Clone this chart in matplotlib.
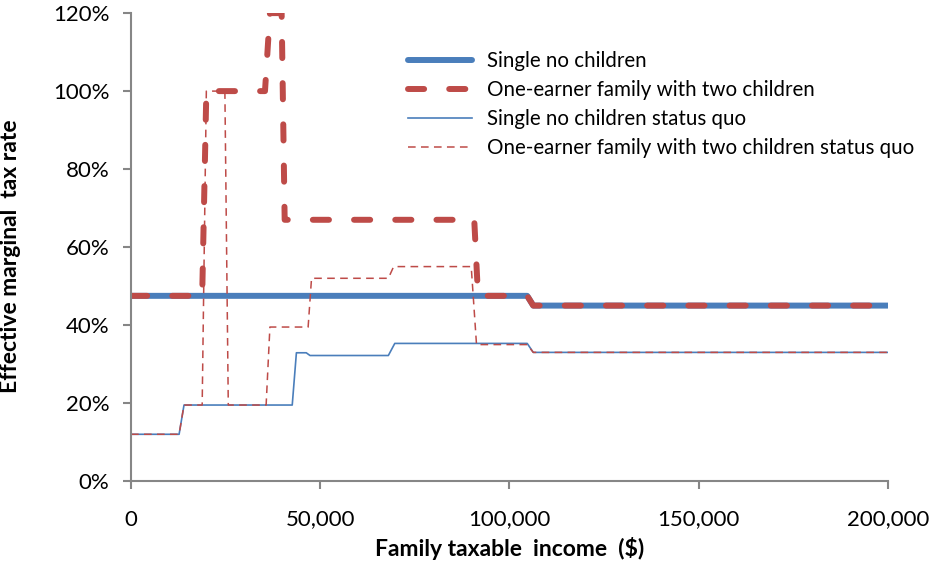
import matplotlib
matplotlib.use("Agg")
import matplotlib.pyplot as plt
from matplotlib.ticker import FuncFormatter

plt.rcParams['font.family'] = ['Lato', 'DejaVu Sans']

# income breakpoints ($) and effective marginal tax rates (%)
single_x = [0, 104700, 106300, 200000]
single_y = [47.5, 47.5, 45, 45]

family_x = [0, 18800, 19900, 35400, 36700, 39800, 40600, 90700, 91700, 104700, 106300, 200000]
family_y = [47.5, 47.5, 100, 100, 120, 120, 67, 67, 47.5, 47.5, 45, 45]

single_sq_x = [0, 12700, 14000, 42600, 43700, 46300, 47300, 68000, 69700, 104700, 106300, 200000]
single_sq_y = [12, 12, 19.5, 19.5, 32.9, 32.9, 32.2, 32.2, 35.3, 35.3, 33, 33]

family_sq_x = [0, 12700, 14000, 18800, 19900, 24800, 25700, 35700, 36700, 46800, 47700,
               68000, 69400, 89900, 91300, 104700, 106300, 200000]
family_sq_y = [12, 12, 19.5, 19.5, 100, 100, 19.5, 19.5, 39.5, 39.5, 52,
               52, 55, 55, 35, 35, 33, 33]

labels = ["Single no children",
          "One-earner family with two children",
          "Single no children status quo",
          "One-earner family with two children status quo"]

blue = '#4A7EBB'
red = '#BE4B48'
grey = '#868686'

fig = plt.figure(figsize=(9.32, 5.7), dpi=100)
ax = fig.add_axes([0.1406, 0.156, 0.812, 0.821])

ax.plot(single_x, single_y, color=blue, lw=4.3, solid_capstyle='round', label=labels[0])
ax.plot(family_x, family_y, color=red, lw=4.3, dashes=(2.7, 4.2),
        dash_capstyle='round', label=labels[1])
ax.plot(single_sq_x, single_sq_y, color=blue, lw=1.2, label=labels[2])
ax.plot(family_sq_x, family_sq_y, color=red, lw=1.1, dashes=(5, 3.5), label=labels[3])

ax.set_xlim(0, 200000)
ax.set_ylim(0, 120)
ax.set_xticks([0, 50000, 100000, 150000, 200000])
ax.set_yticks(range(0, 121, 20))
ax.xaxis.set_major_formatter(FuncFormatter(lambda v, p: f"{int(v):,}"))
ax.yaxis.set_major_formatter(FuncFormatter(lambda v, p: f"{int(v)}%"))

for s in ['top', 'right']:
    ax.spines[s].set_visible(False)
for s in ['left', 'bottom']:
    ax.spines[s].set_color(grey)
    ax.spines[s].set_linewidth(1.5)
ax.tick_params(axis='both', colors=grey, labelcolor='black', labelsize=16,
               length=5.5, width=1.5, direction='out')
ax.tick_params(axis='x', pad=15)
ax.tick_params(axis='y', pad=10)

ax.set_xlabel("Family taxable  income  ($)", fontsize=16.5, fontweight='bold')
ax.set_ylabel("Effective marginal  tax rate", fontsize=16.5, fontweight='bold')
ax.xaxis.set_label_coords(0.5, -0.12)
ax.yaxis.set_label_coords(-0.145, 0.48)

leg = ax.legend(loc='upper left', bbox_to_anchor=(408 / 932, 1 - 51 / 570),
                bbox_transform=fig.transFigure, frameon=False, borderpad=0,
                borderaxespad=0, fontsize=14.8, handlelength=3.1, handletextpad=0.75,
                labelspacing=0.44)

fig.savefig("out.png", dpi=100)
